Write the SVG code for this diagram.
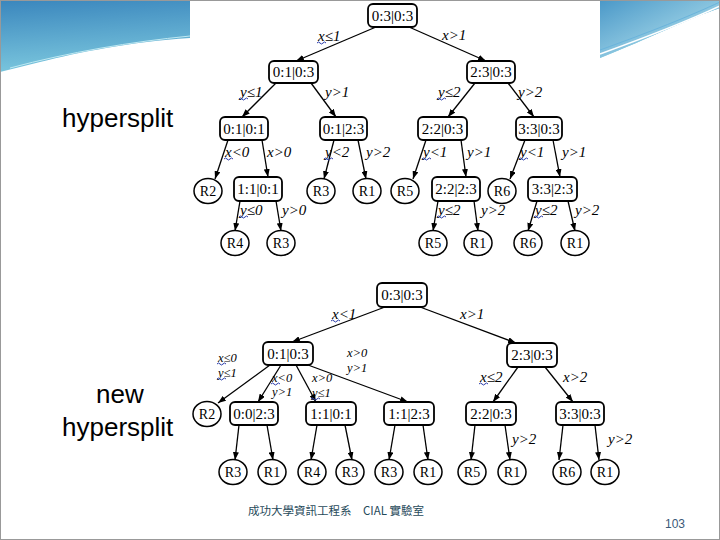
<svg xmlns="http://www.w3.org/2000/svg" width="720" height="540" viewBox="0 0 720 540">
<defs>
<linearGradient id="gl" x1="0" y1="0" x2="0.6" y2="1">
<stop offset="0" stop-color="#3a86bd"/><stop offset="1" stop-color="#8fdbe8"/>
</linearGradient>
<linearGradient id="gr" x1="0" y1="0" x2="1" y2="1">
<stop offset="0" stop-color="#4a98c8"/><stop offset="1" stop-color="#c4eef4"/>
</linearGradient>
<marker id="ah" markerUnits="userSpaceOnUse" markerWidth="8" markerHeight="6" refX="8" refY="3" orient="auto">
<path d="M0,0 L8,3 L0,6 Z" fill="#000"/>
</marker>
<style>
.bx{fill:#fff;stroke:#000;stroke-width:1.8}
.cr{fill:#fff;stroke:#000;stroke-width:1.5}
.n{font-family:"Liberation Serif",serif;font-size:15px;text-anchor:middle;fill:#000}
.r{font-family:"Liberation Serif",serif;font-size:14px;text-anchor:middle;fill:#000}
.e{font-family:"Liberation Serif",serif;font-style:italic;font-size:15px;fill:#000}
.s{font-size:12.5px}
.ed line{stroke:#000;stroke-width:1.3;marker-end:url(#ah)}
.sq{fill:none;stroke:#2a3aa8;stroke-width:1}
.side{font-family:"Liberation Sans",Arial,sans-serif;font-size:26px;fill:#000}
</style>
</defs>
<rect x="0" y="0" width="720" height="540" fill="#fff"/>
<g id="background">
<path d="M0,0 H720 V8 C690,18 650,38 600,58 L600,0 H190 V38 C130,42 80,52 40,62 L0,72 Z" fill="url(#gl)"/>
<path d="M600,0 H720 V8 C690,18 650,38 600,58 Z" fill="url(#gr)"/>
<path d="M20,72 C80,56 140,44 190,40" fill="none" stroke="#fff" stroke-width="1.5"/>
<path d="M10,68 C70,52 130,42 190,36" fill="none" stroke="#bfe9f2" stroke-width="1"/>
<path d="M600,54 C650,36 690,20 720,6" fill="none" stroke="#fff" stroke-width="1.5"/>
<path d="M600,50 C650,32 690,16 720,2" fill="none" stroke="#6ab4dc" stroke-width="1"/>
<rect x="190" y="3" width="410" height="259" fill="#fff"/>
<rect x="0.5" y="0.5" width="719" height="539" fill="none" stroke="#999" stroke-width="1"/>
</g>
<text class="side" x="62" y="127">hypersplit</text>
<text class="side" x="96" y="403">new</text>
<text class="side" x="62" y="436">hypersplit</text>

<g class="ed" id="connectors">
<line x1="376" y1="27" x2="296" y2="61"/>
<line x1="409" y1="27" x2="486" y2="61"/>
<line x1="276" y1="83" x2="242" y2="117"/>
<line x1="311" y1="83" x2="336" y2="117"/>
<line x1="475" y1="83" x2="448" y2="117"/>
<line x1="508" y1="83" x2="534" y2="117"/>
<line x1="228" y1="140" x2="215" y2="179"/>
<line x1="262" y1="140" x2="268" y2="177"/>
<line x1="334" y1="140" x2="324" y2="179"/>
<line x1="358" y1="140" x2="366" y2="179"/>
<line x1="426" y1="140" x2="413" y2="179"/>
<line x1="461" y1="140" x2="466" y2="177"/>
<line x1="525" y1="140" x2="510" y2="179"/>
<line x1="553" y1="140" x2="560" y2="177"/>
<line x1="240" y1="201" x2="235" y2="231"/>
<line x1="276" y1="201" x2="281" y2="231"/>
<line x1="438" y1="201" x2="433" y2="231"/>
<line x1="474" y1="201" x2="478" y2="231"/>
<line x1="537" y1="201" x2="528" y2="231"/>
<line x1="568" y1="201" x2="575" y2="231"/>

<line x1="385" y1="307" x2="292" y2="342"/>
<line x1="420" y1="307" x2="516" y2="343"/>
<line x1="270" y1="365" x2="218" y2="403"/>
<line x1="281" y1="365" x2="258" y2="402"/>
<line x1="296" y1="365" x2="316" y2="402"/>
<line x1="308" y1="365" x2="408" y2="402"/>
<line x1="518" y1="367" x2="493" y2="402"/>
<line x1="545" y1="367" x2="573" y2="402"/>
<line x1="239" y1="425" x2="235" y2="460"/>
<line x1="267" y1="425" x2="273" y2="460"/>
<line x1="317" y1="425" x2="311" y2="460"/>
<line x1="345" y1="425" x2="352" y2="460"/>
<line x1="395" y1="425" x2="389" y2="460"/>
<line x1="423" y1="425" x2="428" y2="460"/>
<line x1="475" y1="425" x2="471" y2="460"/>
<line x1="505" y1="425" x2="510" y2="460"/>
<line x1="563" y1="425" x2="559" y2="460"/>
<line x1="595" y1="425" x2="599" y2="460"/>
</g>

<g id="edge-labels">
<text class="e" x="318" y="41">x≤1</text>
<text class="e" x="442" y="40">x&gt;1</text>
<text class="e" x="240" y="97">y≤1</text>
<text class="e" x="325" y="97">y&gt;1</text>
<text class="e" x="438" y="97">y≤2</text>
<text class="e" x="518" y="97">y&gt;2</text>
<text class="e" x="225" y="157">x&lt;0</text>
<text class="e" x="267" y="157">x&gt;0</text>
<text class="e" x="325" y="157">y&lt;2</text>
<text class="e" x="366" y="157">y&gt;2</text>
<text class="e" x="423" y="157">y&lt;1</text>
<text class="e" x="467" y="157">y&gt;1</text>
<text class="e" x="520" y="157">y&lt;1</text>
<text class="e" x="562" y="157">y&gt;1</text>
<text class="e" x="240" y="215">y≤0</text>
<text class="e" x="282" y="215">y&gt;0</text>
<text class="e" x="438" y="215">y≤2</text>
<text class="e" x="481" y="215">y&gt;2</text>
<text class="e" x="535" y="215">y≤2</text>
<text class="e" x="575" y="215">y&gt;2</text>

<text class="e" x="332" y="319">x&lt;1</text>
<text class="e" x="460" y="319">x&gt;1</text>
<text class="e s" x="218" y="362">x≤0</text>
<text class="e s" x="218" y="377">y≤1</text>
<text class="e s" x="272" y="382">x&lt;0</text>
<text class="e s" x="272" y="396">y&gt;1</text>
<text class="e s" x="312" y="382">x&gt;0</text>
<text class="e s" x="312" y="397">y≤1</text>
<text class="e s" x="347" y="357">x&gt;0</text>
<text class="e s" x="347" y="372">y&gt;1</text>
<text class="e" x="480" y="382">x≤2</text>
<text class="e" x="563" y="382">x&gt;2</text>
<text class="e" x="512" y="444">y&gt;2</text>
<text class="e" x="608" y="444">y&gt;2</text>

<path class="sq" d="M317,43 q1.5,-2 3,0 t3,0 t3,0"/>
<path class="sq" d="M239,99 q1.5,-2 3,0 t3,0 t3,0"/>
<path class="sq" d="M224,159 q1.5,-2 3,0 t3,0 t3,0"/>
<path class="sq" d="M324,159 q1.5,-2 3,0 t3,0 t3,0"/>
<path class="sq" d="M437,99 q1.5,-2 3,0 t3,0 t3,0"/>
<path class="sq" d="M422,159 q1.5,-2 3,0 t3,0 t3,0"/>
<path class="sq" d="M519,159 q1.5,-2 3,0 t3,0 t3,0"/>
<path class="sq" d="M239,217 q1.5,-2 3,0 t3,0 t3,0"/>
<path class="sq" d="M437,217 q1.5,-2 3,0 t3,0 t3,0"/>
<path class="sq" d="M534,217 q1.5,-2 3,0 t3,0 t3,0"/>
<path class="sq" d="M331,321 q1.5,-2 3,0 t3,0 t3,0"/>
<path class="sq" d="M217,364 q1.5,-2 3,0 t3,0 t3,0"/>
<path class="sq" d="M217,379 q1.5,-2 3,0 t3,0 t3,0"/>
<path class="sq" d="M271,384 q1.5,-2 3,0 t3,0 t3,0"/>
<path class="sq" d="M311,399 q1.5,-2 3,0 t3,0 t3,0"/>
<path class="sq" d="M479,384 q1.5,-2 3,0 t3,0 t3,0"/>
</g>

<g id="top-tree">
<g id="t0"><rect class="bx" x="368" y="4" width="49" height="23" rx="5"/><text class="n" x="392.5" y="20.5">0:3|0:3</text></g>
<g id="t1"><rect class="bx" x="269" y="61" width="49" height="22" rx="5"/><text class="n" x="293.5" y="77">0:1|0:3</text></g>
<g id="t2"><rect class="bx" x="467" y="61" width="48" height="22" rx="5"/><text class="n" x="491" y="77">2:3|0:3</text></g>
<g id="t3"><rect class="bx" x="220" y="117" width="48" height="23" rx="5"/><text class="n" x="244" y="133.5">0:1|0:1</text></g>
<g id="t4"><rect class="bx" x="320" y="117" width="47" height="23" rx="5"/><text class="n" x="343.5" y="133.5">0:1|2:3</text></g>
<g id="t5"><rect class="bx" x="418" y="117" width="49" height="23" rx="5"/><text class="n" x="442.5" y="133.5">2:2|0:3</text></g>
<g id="t6"><rect class="bx" x="516" y="117" width="46" height="23" rx="5"/><text class="n" x="539" y="133.5">3:3|0:3</text></g>
<g id="t7"><rect class="bx" x="234" y="177" width="48" height="24" rx="5"/><text class="n" x="258" y="194">1:1|0:1</text></g>
<g id="t8"><rect class="bx" x="432" y="177" width="48" height="24" rx="5"/><text class="n" x="456" y="194">2:2|2:3</text></g>
<g id="t9"><rect class="bx" x="528" y="177" width="49" height="24" rx="5"/><text class="n" x="552.5" y="194">3:3|2:3</text></g>
<g id="tr2"><ellipse class="cr" cx="208" cy="191" rx="14" ry="12.5"/><text class="r" x="208" y="196">R2</text></g>
<g id="tr3a"><ellipse class="cr" cx="321" cy="191" rx="14" ry="12.5"/><text class="r" x="321" y="196">R3</text></g>
<g id="tr1a"><ellipse class="cr" cx="367" cy="191" rx="14" ry="12.5"/><text class="r" x="367" y="196">R1</text></g>
<g id="tr5a"><ellipse class="cr" cx="405" cy="191" rx="14" ry="12.5"/><text class="r" x="405" y="196">R5</text></g>
<g id="tr6a"><ellipse class="cr" cx="502" cy="191" rx="14" ry="12.5"/><text class="r" x="502" y="196">R6</text></g>
<g id="tr4"><ellipse class="cr" cx="235" cy="243" rx="14" ry="12.5"/><text class="r" x="235" y="248">R4</text></g>
<g id="tr3b"><ellipse class="cr" cx="281" cy="243" rx="14" ry="12.5"/><text class="r" x="281" y="248">R3</text></g>
<g id="tr5b"><ellipse class="cr" cx="433" cy="243" rx="14" ry="12.5"/><text class="r" x="433" y="248">R5</text></g>
<g id="tr1b"><ellipse class="cr" cx="478" cy="243" rx="14" ry="12.5"/><text class="r" x="478" y="248">R1</text></g>
<g id="tr6b"><ellipse class="cr" cx="528" cy="243" rx="14" ry="12.5"/><text class="r" x="528" y="248">R6</text></g>
<g id="tr1c"><ellipse class="cr" cx="575" cy="243" rx="14" ry="12.5"/><text class="r" x="575" y="248">R1</text></g>
</g>

<g id="bottom-tree">
<g id="b0"><rect class="bx" x="377" y="283" width="50" height="24" rx="5"/><text class="n" x="402" y="300">0:3|0:3</text></g>
<g id="b1"><rect class="bx" x="263" y="342" width="50" height="23" rx="5"/><text class="n" x="288" y="358.5">0:1|0:3</text></g>
<g id="b2"><rect class="bx" x="507" y="343" width="50" height="24" rx="5"/><text class="n" x="532" y="360">2:3|0:3</text></g>
<g id="b3"><rect class="bx" x="230" y="402" width="48" height="23" rx="5"/><text class="n" x="254" y="418.5">0:0|2:3</text></g>
<g id="b4"><rect class="bx" x="306" y="402" width="50" height="23" rx="5"/><text class="n" x="331" y="418.5">1:1|0:1</text></g>
<g id="b5"><rect class="bx" x="384" y="402" width="50" height="23" rx="5"/><text class="n" x="409" y="418.5">1:1|2:3</text></g>
<g id="b6"><rect class="bx" x="466" y="402" width="50" height="23" rx="5"/><text class="n" x="491" y="418.5">2:2|0:3</text></g>
<g id="b7"><rect class="bx" x="556" y="402" width="48" height="23" rx="5"/><text class="n" x="580" y="418.5">3:3|0:3</text></g>
<g id="br2"><ellipse class="cr" cx="207" cy="414" rx="14" ry="12.5"/><text class="r" x="207" y="419">R2</text></g>
<g id="bl1"><ellipse class="cr" cx="233" cy="472" rx="14" ry="12.5"/><text class="r" x="233" y="477">R3</text></g>
<g id="bl2"><ellipse class="cr" cx="272" cy="472" rx="14" ry="12.5"/><text class="r" x="272" y="477">R1</text></g>
<g id="bl3"><ellipse class="cr" cx="312" cy="472" rx="14" ry="12.5"/><text class="r" x="312" y="477">R4</text></g>
<g id="bl4"><ellipse class="cr" cx="350" cy="472" rx="14" ry="12.5"/><text class="r" x="350" y="477">R3</text></g>
<g id="bl5"><ellipse class="cr" cx="389" cy="472" rx="14" ry="12.5"/><text class="r" x="389" y="477">R3</text></g>
<g id="bl6"><ellipse class="cr" cx="428" cy="472" rx="14" ry="12.5"/><text class="r" x="428" y="477">R1</text></g>
<g id="bl7"><ellipse class="cr" cx="472" cy="472" rx="14" ry="12.5"/><text class="r" x="472" y="477">R5</text></g>
<g id="bl8"><ellipse class="cr" cx="512" cy="472" rx="14" ry="12.5"/><text class="r" x="512" y="477">R1</text></g>
<g id="bl9"><ellipse class="cr" cx="567" cy="472" rx="14" ry="12.5"/><text class="r" x="567" y="477">R6</text></g>
<g id="bl10"><ellipse class="cr" cx="605" cy="472" rx="14" ry="12.5"/><text class="r" x="605" y="477">R1</text></g>
</g>

<text x="248" y="515" font-family="'Noto Sans CJK TC','Noto Sans CJK SC',sans-serif" font-size="11.5" fill="#1f4a5a">成功大學資訊工程系　CIAL 實驗室</text>
<text x="665" y="528" font-family="'Liberation Sans',Arial,sans-serif" font-size="12" fill="#3a5878">103</text>
</svg>
